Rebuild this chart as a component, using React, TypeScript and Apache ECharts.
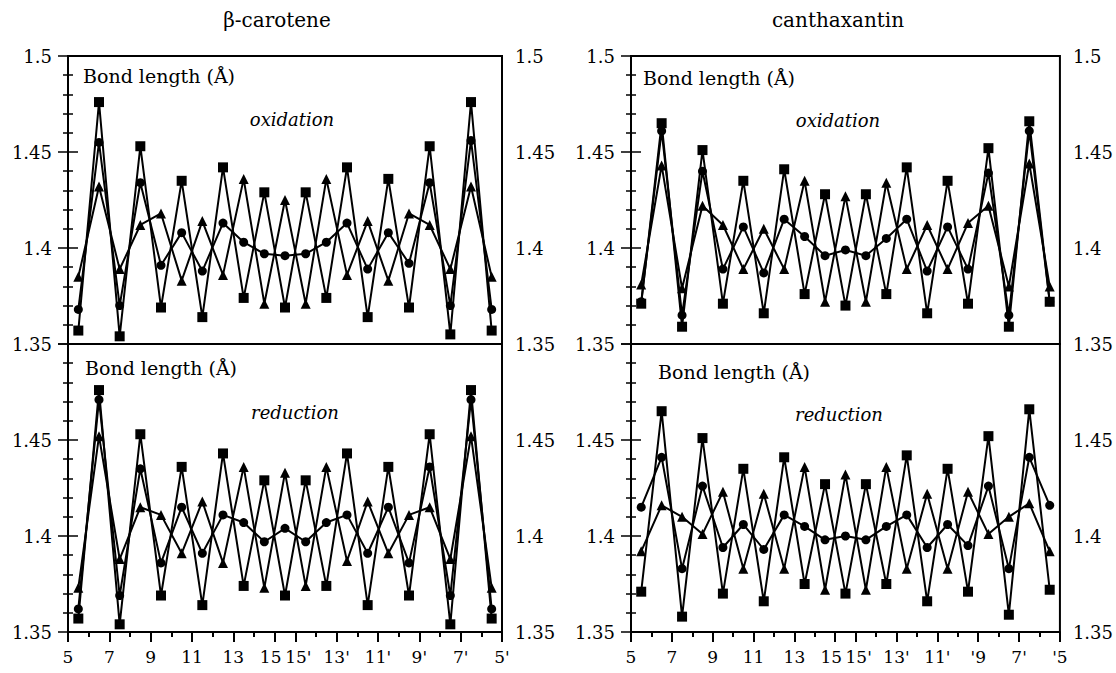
import React, { useEffect, useRef } from "react";
import * as echarts from "echarts";

// bond positions along the chain (5 = 0 ... 15 = 10, 15' = 11 ... 5' = 21)
const bondX = [0.5, 1.5, 2.5, 3.5, 4.5, 5.5, 6.5, 7.5, 8.5, 9.5, 10.5, 11.5, 12.5, 13.5, 14.5, 15.5, 16.5, 17.5, 18.5, 19.5, 20.5];
const majorTickPos = [0, 2, 4, 6, 8, 10, 11, 13, 15, 17, 19, 21];
const minorTickPos = [1, 3, 5, 7, 9, 12, 14, 16, 18, 20];
const tickLabelsCarotene = ["5", "7", "9", "11", "13", "15", "15'", "13'", "11'", "9'", "7'", "5'"];
const tickLabelsCantha = ["5", "7", "9", "11", "13", "15", "15'", "13'", "11'", "'9", "7'", "'5"];

// β-carotene, oxidation
const bcOxSq = [1.357, 1.476, 1.354, 1.453, 1.369, 1.435, 1.364, 1.442, 1.374, 1.429, 1.369, 1.429, 1.374, 1.442, 1.364, 1.436, 1.369, 1.453, 1.355, 1.476, 1.357];
const bcOxCi = [1.368, 1.455, 1.370, 1.434, 1.391, 1.408, 1.388, 1.413, 1.403, 1.397, 1.396, 1.397, 1.403, 1.413, 1.389, 1.408, 1.392, 1.434, 1.370, 1.456, 1.368];
const bcOxTr = [1.385, 1.432, 1.389, 1.412, 1.418, 1.383, 1.414, 1.386, 1.436, 1.371, 1.425, 1.371, 1.436, 1.386, 1.414, 1.383, 1.418, 1.412, 1.389, 1.432, 1.385];
// β-carotene, reduction
const bcRedSq = [1.357, 1.476, 1.354, 1.453, 1.369, 1.436, 1.364, 1.443, 1.374, 1.429, 1.369, 1.429, 1.374, 1.443, 1.364, 1.436, 1.369, 1.453, 1.354, 1.476, 1.357];
const bcRedCi = [1.362, 1.471, 1.369, 1.435, 1.386, 1.415, 1.391, 1.411, 1.407, 1.397, 1.404, 1.397, 1.407, 1.411, 1.391, 1.415, 1.386, 1.436, 1.369, 1.471, 1.362];
const bcRedTr = [1.373, 1.452, 1.388, 1.415, 1.411, 1.391, 1.418, 1.386, 1.436, 1.373, 1.433, 1.374, 1.436, 1.387, 1.418, 1.391, 1.411, 1.415, 1.388, 1.452, 1.373];
// canthaxantin, oxidation
const cxOxSq = [1.371, 1.465, 1.359, 1.451, 1.371, 1.435, 1.366, 1.441, 1.376, 1.428, 1.370, 1.428, 1.376, 1.442, 1.366, 1.435, 1.371, 1.452, 1.359, 1.466, 1.372];
const cxOxCi = [1.372, 1.461, 1.365, 1.440, 1.389, 1.411, 1.387, 1.415, 1.406, 1.396, 1.399, 1.396, 1.405, 1.415, 1.388, 1.411, 1.389, 1.439, 1.365, 1.461, 1.372];
const cxOxTr = [1.381, 1.443, 1.379, 1.422, 1.412, 1.389, 1.410, 1.389, 1.435, 1.372, 1.427, 1.372, 1.434, 1.389, 1.412, 1.389, 1.413, 1.422, 1.380, 1.444, 1.380];
// canthaxantin, reduction
const cxRedSq = [1.371, 1.465, 1.358, 1.451, 1.370, 1.435, 1.366, 1.441, 1.375, 1.427, 1.370, 1.427, 1.375, 1.442, 1.366, 1.435, 1.371, 1.452, 1.359, 1.466, 1.372];
const cxRedCi = [1.415, 1.441, 1.383, 1.426, 1.394, 1.406, 1.393, 1.411, 1.405, 1.398, 1.400, 1.398, 1.405, 1.411, 1.394, 1.406, 1.395, 1.426, 1.383, 1.441, 1.416];
const cxRedTr = [1.392, 1.416, 1.410, 1.401, 1.423, 1.383, 1.422, 1.383, 1.436, 1.372, 1.432, 1.372, 1.436, 1.383, 1.422, 1.383, 1.423, 1.401, 1.410, 1.417, 1.392];

const FONT = "DejaVu Serif";

const panels = [
  { grid: { left: 68, top: 56, width: 434, height: 288 }, bottom: false, labels: tickLabelsCarotene, sq: bcOxSq, ci: bcOxCi, tr: bcOxTr },
  { grid: { left: 68, top: 344, width: 434, height: 288 }, bottom: true, labels: tickLabelsCarotene, sq: bcRedSq, ci: bcRedCi, tr: bcRedTr },
  { grid: { left: 631, top: 56, width: 431, height: 288 }, bottom: false, labels: tickLabelsCantha, sq: cxOxSq, ci: cxOxCi, tr: cxOxTr },
  { grid: { left: 631, top: 344, width: 431, height: 288 }, bottom: true, labels: tickLabelsCantha, sq: cxRedSq, ci: cxRedCi, tr: cxRedTr },
];

export default function App() {
  const ref = useRef<HTMLDivElement>(null);
  useEffect(() => {
    if (!ref.current) return;
    const chart = echarts.init(ref.current, null, { renderer: "svg" });
    const grid: any[] = [];
    const xAxis: any[] = [];
    const yAxis: any[] = [];
    const series: any[] = [];
    const axisLine = { show: true, lineStyle: { color: "#000", width: 2 } };
    panels.forEach((p, gi) => {
      grid.push({ ...p.grid, show: true, borderColor: "#000", borderWidth: 2, backgroundColor: "transparent" });
      const labels = p.labels;
      xAxis.push({
        type: "value", gridIndex: gi, min: 0, max: 21, interval: 1, position: "bottom",
        axisLine,
        splitLine: { show: false },
        axisTick: { show: p.bottom, length: 10, lineStyle: { color: "#000", width: 2 }, customValues: majorTickPos },
        axisLabel: {
          show: p.bottom, customValues: majorTickPos, margin: 16,
          fontFamily: FONT, fontSize: 17, color: "#000",
          formatter: (v: number) => {
            const k = Math.round(v);
            const i = majorTickPos.indexOf(k);
            if (i < 0) return "";
            if (k === 10) return "{l|" + labels[i] + "}";
            if (k === 11) return "{r|" + labels[i] + "}";
            return labels[i];
          },
          rich: {
            l: { fontFamily: FONT, fontSize: 17, color: "#000", padding: [0, 8, 0, 0] },
            r: { fontFamily: FONT, fontSize: 17, color: "#000", padding: [0, 0, 0, 6] },
          },
        },
      });
      xAxis.push({
        type: "value", gridIndex: gi, min: 0, max: 21, interval: 1, position: "bottom",
        axisLine: { show: false }, splitLine: { show: false },
        axisTick: { show: p.bottom, length: 5, lineStyle: { color: "#000", width: 2 }, customValues: minorTickPos },
        axisLabel: { show: false },
      });
      const yCommon = {
        type: "value", gridIndex: gi, min: 1.35, max: 1.5, interval: 0.05,
        axisLine, splitLine: { show: false },
        axisTick: { show: true, length: 10, lineStyle: { color: "#000", width: 1.5 } },
        minorTick: { show: true, splitNumber: 5, length: 5, lineStyle: { color: "#000", width: 1.5 } },
        minorSplitLine: { show: false },
      };
      yAxis.push({
        ...yCommon, position: "left",
        axisLabel: { fontFamily: FONT, fontSize: 18, color: "#000", margin: 16, showMaxLabel: !p.bottom },
      });
      yAxis.push({
        ...yCommon, position: "right",
        axisLabel: { fontFamily: FONT, fontSize: 18, color: "#000", margin: 13, showMaxLabel: !p.bottom },
      });
      const mk = (vals: number[], symbol: string, size: number) => ({
        type: "line", xAxisIndex: gi * 2, yAxisIndex: gi * 2,
        data: vals.map((v, i) => [bondX[i], v]),
        symbol, symbolSize: size, showAllSymbol: true,
        itemStyle: { color: "#000" },
        lineStyle: { color: "#000", width: 2 },
        silent: true,
      });
      series.push(mk(p.tr, "triangle", 10));
      series.push(mk(p.ci, "circle", 9));
      series.push(mk(p.sq, "rect", 10));
    });

    const txt = (x: number, y: number, text: string, size: number, opts: any = {}) => ({
      type: "text", x, y,
      style: { text, fontFamily: FONT, fontSize: size, fill: "#000", textAlign: opts.align || "left", textVerticalAlign: "middle", fontStyle: opts.italic ? "italic" : "normal" },
      z: 100,
    });

    chart.setOption({
      animation: false,
      backgroundColor: "#fff",
      grid, xAxis, yAxis, series,
      graphic: [
        txt(277, 20, "β-carotene", 20, { align: "center" }),
        txt(838, 20, "canthaxantin", 20, { align: "center" }),
        txt(83, 76, "Bond length (Å)", 19),
        txt(85, 368, "Bond length (Å)", 19),
        txt(643, 78, "Bond length (Å)", 19),
        txt(658, 372, "Bond length (Å)", 19),
        txt(292, 119, "oxidation", 18, { align: "center", italic: true }),
        txt(838, 120, "oxidation", 18, { align: "center", italic: true }),
        txt(295, 412, "reduction", 18, { align: "center", italic: true }),
        txt(839, 414, "reduction", 18, { align: "center", italic: true }),
      ],
    });
    return () => chart.dispose();
  }, []);
  return <div ref={ref} style={{ position: "fixed", left: 0, top: 0, width: 1116, height: 673 }} />;
}
